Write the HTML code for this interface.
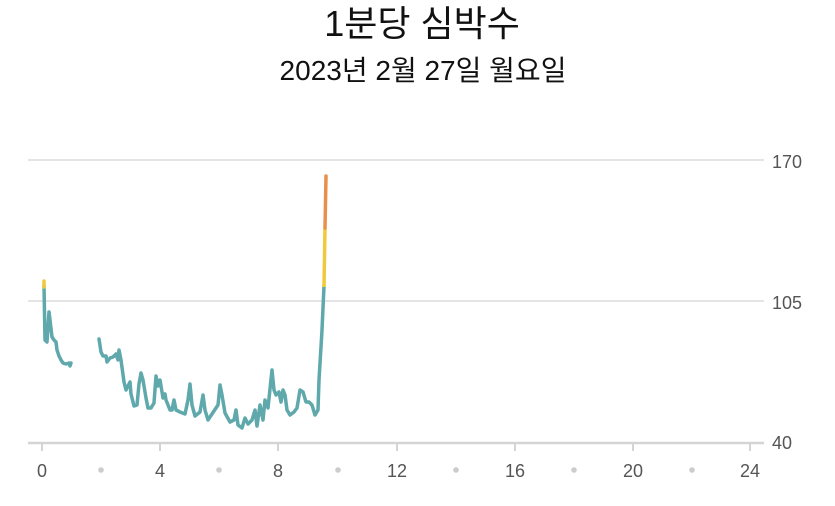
<!DOCTYPE html>
<html><head><meta charset="utf-8"><style>
html,body{margin:0;padding:0;background:#fff;width:835px;height:506px;overflow:hidden}
</style></head><body>
<svg width="835" height="506" xmlns="http://www.w3.org/2000/svg" style="font-family:'Liberation Sans','Noto Sans CJK KR',sans-serif">
<text x="422" y="36" text-anchor="middle" font-size="36" fill="#111">1분당 심박수</text>
<text x="423" y="80" text-anchor="middle" font-size="28" fill="#111">2023년 2월 27일 월요일</text>
<g stroke="#dcdcdc" stroke-width="1.5">
<line x1="28" y1="160" x2="764" y2="160"/>
<line x1="28" y1="301" x2="764" y2="301"/>
</g>
<line x1="28" y1="443" x2="764" y2="443" stroke="#d4d4d4" stroke-width="2.5"/>
<g stroke="#d4d4d4" stroke-width="2">
<line x1="42" y1="443" x2="42" y2="451"/><line x1="160" y1="443" x2="160" y2="451"/>
<line x1="278" y1="443" x2="278" y2="451"/><line x1="397" y1="443" x2="397" y2="451"/>
<line x1="515" y1="443" x2="515" y2="451"/><line x1="633" y1="443" x2="633" y2="451"/>
<line x1="750" y1="443" x2="750" y2="451"/>
</g>
<g font-size="18" fill="#555">
<text x="772" y="168">170</text><text x="772" y="309">105</text><text x="772" y="449">40</text>
</g>
<g font-size="18" fill="#555" text-anchor="middle">
<text x="42" y="477">0</text><text x="160" y="477">4</text><text x="278" y="477">8</text>
<text x="397" y="477">12</text><text x="515" y="477">16</text><text x="633" y="477">20</text><text x="750" y="477">24</text>
</g>
<g fill="#ccc">
<circle cx="101" cy="470" r="2.8"/><circle cx="219" cy="470" r="2.8"/><circle cx="338" cy="470" r="2.8"/>
<circle cx="456" cy="470" r="2.8"/><circle cx="574" cy="470" r="2.8"/><circle cx="692" cy="470" r="2.8"/>
</g>
<g fill="none" stroke="#5fa8ab" stroke-width="3.5" stroke-linejoin="round" stroke-linecap="round">
<polyline points="44,286 45,340 47,342 49,312 50,320 52,337 54,340 56,342 57,350 59,356 61,360 63,363 66,364 69,363 70,366 71,363"/>
<polyline points="99,339 101,352 103,356 106,356 107,362 110,358 113,357 116,354 118,360 119,350 121,360 124,382 126,390 128,386 130,382 131,394 134,406 137,405 139,384 141,373 143,380 146,398 148,408 151,408 154,403 156,376 158,386 160,380 163,398 165,394 166,400 170,410 172,410 174,400 176,410 180,412 185,414 188,400 190,384 192,405 195,416 200,412 203,395 205,410 208,420 212,414 218,405 220,385 222,395 225,413 230,422 234,420 236,410 238,425 242,428 245,418 248,424 252,420 255,410 257,426 260,405 263,420 265,400 268,408 272,370 274,390 276,395 279,392 281,402 283,390 285,395 287,410 290,415 294,412 297,408 300,390 303,392 306,402 309,402 312,405 315,415 318,410 319,380 322,330 324,286"/>
</g>
<line x1="44" y1="281" x2="44" y2="287" stroke="#f0c93c" stroke-width="3.5" stroke-linecap="round"/>
<line x1="324" y1="287" x2="325" y2="228" stroke="#f0c93c" stroke-width="3.5"/>
<line x1="325" y1="228" x2="326" y2="176" stroke="#e8904a" stroke-width="3.5" stroke-linecap="round"/>
</svg>
</body></html>
